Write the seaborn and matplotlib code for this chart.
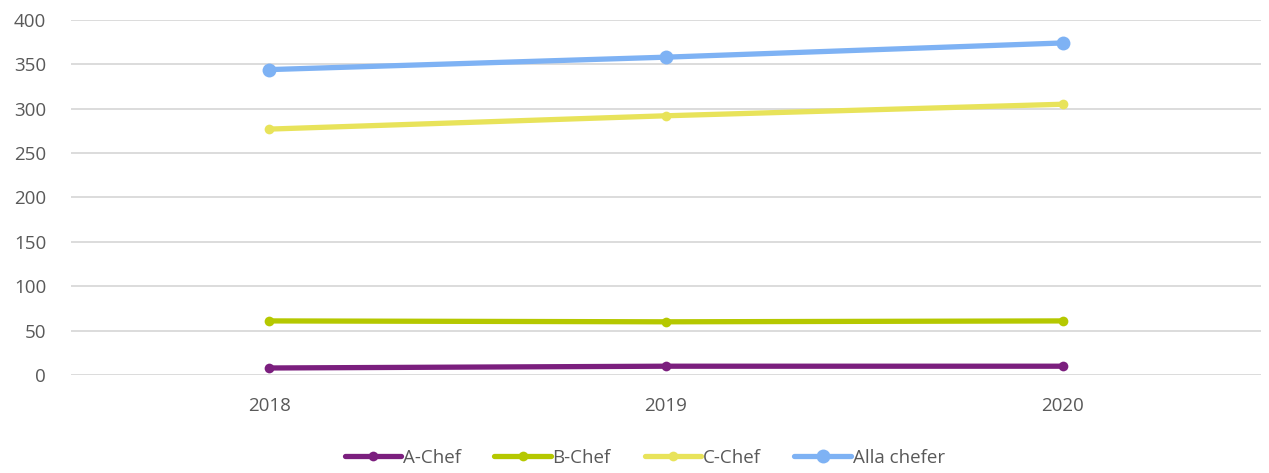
import matplotlib
matplotlib.use("Agg")
import matplotlib.pyplot as plt
import seaborn as sns
import pandas as pd

years = ["2018", "2019", "2020"]
series_names = ["A-Chef", "B-Chef", "C-Chef", "Alla chefer"]
a_chef = [8, 10, 10]
b_chef = [61, 60, 61]
c_chef = [277, 292, 305]
alla_chefer = [344, 358, 374]
colors = ["#7B1F7E", "#B5C800", "#E8E35A", "#7EB2F4"]
marker_sizes = [7, 7, 7, 10]

sns.set_theme(style="white")
plt.rcParams['font.family'] = ['Open Sans', 'DejaVu Sans']

rows = []
for name, vals in zip(series_names, [a_chef, b_chef, c_chef, alla_chefer]):
    for i, (y, v) in enumerate(zip(years, vals)):
        rows.append({"pos": i, "year": y, "value": v, "series": name})
df = pd.DataFrame(rows)

fig = plt.figure(figsize=(12.69, 4.73), dpi=100)
ax = fig.add_axes([0.056, 0.207, 0.9937 - 0.056, 0.958 - 0.207])

for name, col, ms in zip(series_names, colors, marker_sizes):
    sub = df[df["series"] == name]
    sns.lineplot(data=sub, x="pos", y="value", ax=ax, color=col, linewidth=3.8,
                 marker="o", markersize=ms, markeredgewidth=0, label=name,
                 solid_capstyle="round")

ax.set_xlim(-0.5, 2.5)
ax.set_ylim(0, 400)
ax.set_yticks(range(0, 401, 50))
ax.set_xticks(range(len(years)))
ax.set_xticklabels(years)
ax.set_xlabel("")
ax.set_ylabel("")
ax.yaxis.grid(True, color="#D9D9D9", linewidth=1.3)
ax.set_axisbelow(True)
for s in ax.spines.values():
    s.set_visible(False)
ax.tick_params(axis="both", length=0, labelsize=13.5, colors="#595959")
ax.tick_params(axis="y", pad=18)
ax.tick_params(axis="x", pad=16)

ax.get_legend().remove()
handles, labels = ax.get_legend_handles_labels()
leg = fig.legend(handles, labels, loc="center", bbox_to_anchor=(0.508, 0.032), ncol=4,
                 frameon=False, fontsize=13.5, handlelength=3.0, handletextpad=0.1,
                 columnspacing=1.8, labelcolor="#595959")

fig.savefig("out.png", dpi=100)
